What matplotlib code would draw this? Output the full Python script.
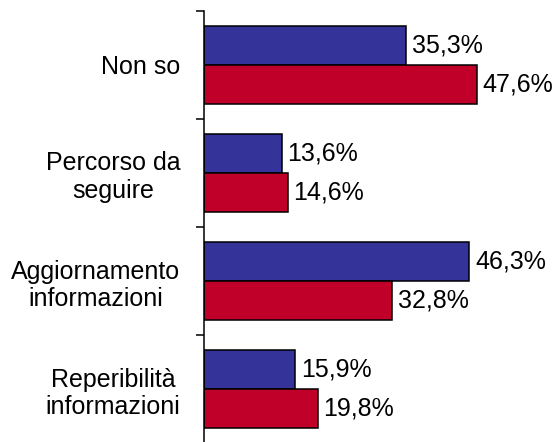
import matplotlib
matplotlib.use('Agg')
import matplotlib.pyplot as plt
import numpy as np

categories = ['Non so', 'Percorso da\nseguire', 'Aggiornamento\ninformazioni', 'Reperibilità\ninformazioni']
blue_vals = [35.3, 13.6, 46.3, 15.9]
red_vals = [47.6, 14.6, 32.8, 19.8]

BLUE = '#333399'
RED = '#C00028'

def fmt(v):
    return ('%.1f%%' % v).replace('.', ',')

def plot_bars():
    plt.rcParams['font.family'] = ['Liberation Sans', 'DejaVu Sans']
    fig = plt.figure(figsize=(5.58, 4.42), dpi=100)
    ax = fig.add_axes([204/558., -1/442., 344/558., 432/442.])

    n = len(categories)
    centers = np.arange(n) + 0.5
    h = 0.361
    ax.barh(centers - h/2, blue_vals, height=h, color=BLUE, edgecolor='black', linewidth=1.1)
    ax.barh(centers + h/2, red_vals, height=h, color=RED, edgecolor='black', linewidth=1.1)

    for c, b, r in zip(centers, blue_vals, red_vals):
        ax.annotate(fmt(b), (b, c - h/2), xytext=(4, 0), textcoords='offset points',
                    va='center', ha='left', fontsize=18, clip_on=False, annotation_clip=False)
        ax.annotate(fmt(r), (r, c + h/2), xytext=(4, 0), textcoords='offset points',
                    va='center', ha='left', fontsize=18, clip_on=False, annotation_clip=False)

    ax.set_xlim(0, 60)
    ax.set_ylim(n, 0)
    ax.set_xticks([])
    ax.set_yticks(np.arange(n + 1))
    ax.set_yticklabels([])
    ax.set_yticks(centers, minor=True)
    ax.set_yticklabels(categories, minor=True, fontsize=18, multialignment='center', linespacing=1.2)
    ax.tick_params(axis='y', which='major', length=6, width=1.1, direction='out')
    ax.tick_params(axis='y', which='minor', length=0, pad=17)
    for s in ['top', 'right', 'bottom']:
        ax.spines[s].set_visible(False)
    ax.spines['left'].set_linewidth(1.1)
    ax.patch.set_visible(False)
    plt.savefig('out.png', dpi=100)

if __name__ == '__main__':
    plot_bars()
